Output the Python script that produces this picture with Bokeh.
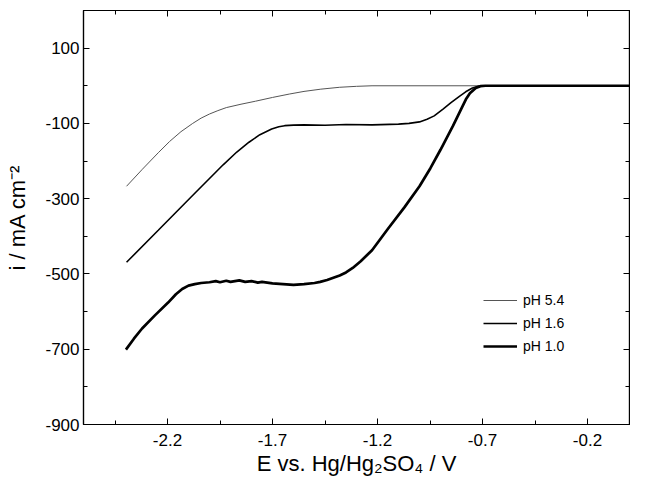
from bokeh.plotting import figure
from bokeh.models import (LinearAxis, FixedTicker, Range1d, Legend, LegendItem, CustomJSTickFormatter)
from bokeh.embed import file_html
from bokeh.resources import INLINE

# pH 5.4
e54 = [-2.395, -2.32, -2.244, -2.19, -2.136, -2.08, -2.04, -2.0, -1.96, -1.92, -1.85, -1.781, -1.7,
       -1.62, -1.55, -1.47, -1.38, -1.3, -1.226, -0.7, 0.0]
i54 = [-267, -222, -178, -148, -122, -100, -86, -75, -66, -58, -49, -41, -31,
       -22, -15, -9, -4, -1.5, 0, 0, 0]

# pH 1.6
e16 = [-2.395, -2.244, -2.09, -1.935, -1.87, -1.812, -1.76, -1.704, -1.67, -1.642, -1.6, -1.55,
       -1.45, -1.35, -1.226, -1.1, -1.05, -1.0, -0.964, -0.93, -0.888, -0.85, -0.81, -0.78,
       -0.748, -0.72, -0.70, -0.6, 0.0]
i16 = [-469, -384, -297, -210, -176, -150, -130, -115, -109, -106, -104.5, -104,
       -105, -103, -104, -102, -100, -96, -89, -80, -62, -45, -28, -16,
       -6, -1.5, 0, 0, 0]

# pH 1.0
e10 = [-2.398, -2.36, -2.321, -2.26, -2.197, -2.16, -2.13, -2.1, -2.07, -2.04, -2.0, -1.97, -1.95,
       -1.92, -1.9, -1.858, -1.83, -1.8, -1.77, -1.75, -1.7, -1.65, -1.6, -1.55, -1.5, -1.473,
       -1.44, -1.41, -1.38, -1.35, -1.318, -1.28, -1.226, -1.15, -1.072, -1.0, -0.948, -0.9,
       -0.84, -0.8, -0.779, -0.76, -0.732, -0.71, -0.686, -0.6, 0.0]
i10 = [-701, -672, -645, -610, -576, -554, -540, -531, -527, -524, -522, -519, -522,
       -518, -521, -517, -521, -519, -523, -521, -525, -527, -529, -527, -524, -521,
       -516, -510, -504, -496, -484, -466, -437, -380, -323, -267, -219, -170,
       -106, -60, -36, -20, -6, -1, 0, 0, 0]

labels = ["pH 5.4", "pH 1.6", "pH 1.0"]

FONT = "Liberation Sans"

p = figure(width=630, height=478, output_backend="svg", toolbar_location=None,
           x_range=Range1d(-2.6, 0.0), y_range=Range1d(-900, 200),
           min_border_left=83, min_border_right=1, min_border_top=10, min_border_bottom=54)
p.grid.visible = False
p.outline_line_color = "black"
p.outline_line_width = 1.2

r54 = p.line(e54, i54, line_color="#555555", line_width=1.0)
r16 = p.line(e16, i16, line_color="black", line_width=1.6)
r10 = p.line(e10, i10, line_color="black", line_width=2.7)

xt = FixedTicker(ticks=[-2.2, -1.7, -1.2, -0.7, -0.2], minor_ticks=[-2.45, -1.95, -1.45, -0.95, -0.45])
yt = FixedTicker(ticks=[-900, -700, -500, -300, -100, 100], minor_ticks=[-800, -600, -400, -200, 0, 200])

def style(ax, show):
    ax.axis_line_color = "black"
    ax.axis_line_width = 1.2
    ax.major_tick_in = 6
    ax.major_tick_out = 0
    ax.minor_tick_in = 4
    ax.minor_tick_out = 0
    ax.major_tick_line_color = "black"
    ax.minor_tick_line_color = "black"
    ax.major_label_text_font = FONT
    ax.major_label_text_font_size = "17px"
    ax.major_label_text_color = "black"
    ax.axis_label_text_font = FONT
    ax.axis_label_text_font_size = "22px"
    ax.axis_label_text_font_style = "normal"
    ax.axis_label_text_color = "black"
    if not show:
        ax.major_label_text_color = None

p.xaxis.ticker = xt
p.yaxis.ticker = yt
style(p.xaxis[0], True)
style(p.yaxis[0], True)
p.xaxis.formatter = CustomJSTickFormatter(code="return tick.toFixed(1);")
p.yaxis.formatter = CustomJSTickFormatter(code="return tick.toFixed(0);")
p.xaxis.axis_label = "E vs. Hg/Hg\u2082SO\u2084 / V"
p.yaxis.axis_label = "i / mA cm\u207b\u00b2"
p.xaxis.major_label_standoff = 9
p.yaxis.major_label_standoff = 4
p.xaxis.axis_label_standoff = 2
p.yaxis.axis_label_standoff = 12

top = LinearAxis(ticker=xt)
style(top, False)
p.add_layout(top, "above")
right = LinearAxis(ticker=yt)
style(right, False)
p.add_layout(right, "right")
top.major_label_standoff = 0
right.major_label_standoff = 0
top.major_label_text_font_size = "0px"
right.major_label_text_font_size = "0px"

legend = Legend(items=[LegendItem(label=labels[0], renderers=[r54]),
                       LegendItem(label=labels[1], renderers=[r16]),
                       LegendItem(label=labels[2], renderers=[r10])],
                location=(400, 68), border_line_color=None, background_fill_alpha=0,
                label_text_font=FONT, label_text_font_size="14px", label_text_color="black",
                glyph_width=34, label_standoff=6, spacing=3, padding=0, margin=0)
p.add_layout(legend, "center")

open("out.html", "w").write(file_html(p, INLINE))
